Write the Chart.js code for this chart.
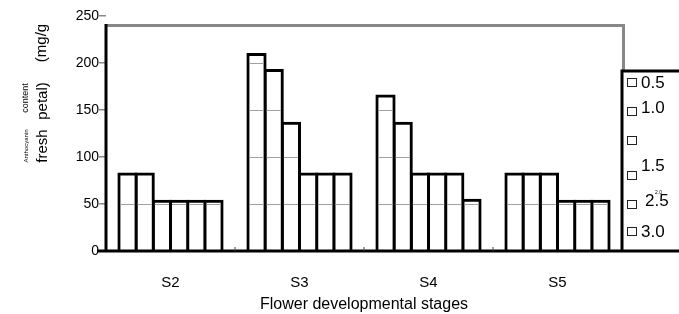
<!DOCTYPE html>
<html>
<head>
<meta charset="utf-8">
<script src="https://cdn.jsdelivr.net/npm/chart.js@4"></script>
<style>
  html, body { margin: 0; padding: 0; background: #fff; }
  #wrap { width: 679px; height: 314px; }
</style>
</head>
<body>
<div id="wrap"><canvas id="chart" width="679" height="314"></canvas></div>
<script>
// data
const stages = ['S2', 'S3', 'S4', 'S5'];
const concentrations = ['0.5', '1.0', '1.5', '2.0', '2.5', '3.0'];
const conc05 = [82, 209, 165, 82];
const conc10 = [82, 192, 136, 82];
const conc15 = [53, 136, 82, 82];
const conc20 = [53, 82, 82, 53];
const conc25 = [53, 82, 82, 53];
const conc30 = [53, 82, 54, 53];
const yTicks = [0, 50, 100, 150, 200, 250];
const frameTop = 240;   // value where the grey plot frame sits

const FONT = "'Liberation Sans', Arial, sans-serif";
Chart.defaults.font.family = FONT;
Chart.defaults.color = '#000';

const series = [conc05, conc10, conc15, conc20, conc25, conc30];

// axes, frame, legend box and the odd y title
const decor = {
  id: 'decor',
  afterDatasetsDraw(chart) {
    const { ctx, chartArea: a, scales: { x, y } } = chart;
    const W = chart.width;
    const yf = y.getPixelForValue(frameTop);
    ctx.save();

    // grid lines only show through the bars in the original
    ctx.strokeStyle = '#a0a0a0';
    ctx.lineWidth = 1;
    chart.data.datasets.forEach((ds, di) => {
      chart.getDatasetMeta(di).data.forEach((bar, j) => {
        const { x: bx, width: bw } = bar.getProps(['x', 'width'], true);
        yTicks.forEach(v => {
          if (v > 0 && v < ds.data[j]) {
            const py = Math.round(y.getPixelForValue(v)) + 0.5;
            ctx.beginPath();
            ctx.moveTo(bx - bw / 2 + 1.5, py);
            ctx.lineTo(bx + bw / 2 - 1.5, py);
            ctx.stroke();
          }
        });
      });
    });

    // grey frame top + right
    ctx.strokeStyle = '#888';
    ctx.lineWidth = 3;
    ctx.beginPath();
    ctx.moveTo(a.left, yf);
    ctx.lineTo(a.right + 1.5, yf);
    ctx.lineTo(a.right + 1.5, 71);
    ctx.stroke();

    // black axes
    ctx.strokeStyle = '#000';
    ctx.beginPath();
    ctx.moveTo(a.left, yf - 1.5);
    ctx.lineTo(a.left, a.bottom);
    ctx.moveTo(a.left - 9, a.bottom);
    ctx.lineTo(W, a.bottom);
    ctx.stroke();

    // little ticks between categories
    ctx.lineWidth = 1;
    ctx.strokeStyle = '#444';
    for (let i = 0; i < stages.length - 1; i++) {
      const bx = (x.getPixelForValue(i) + x.getPixelForValue(i + 1)) / 2;
      ctx.beginPath();
      ctx.moveTo(bx, a.bottom - 4);
      ctx.lineTo(bx, a.bottom);
      ctx.stroke();
    }

    // legend box
    ctx.strokeStyle = '#000';
    ctx.lineWidth = 3;
    ctx.beginPath();
    ctx.moveTo(a.right, a.bottom);
    ctx.lineTo(a.right, 71);
    ctx.lineTo(W, 71);
    ctx.stroke();

    const sq = [83, 112, 141, 176, 205, 232];
    ctx.lineWidth = 1;
    ctx.strokeStyle = '#222';
    sq.forEach(cy => ctx.strokeRect(a.right + 5.5, cy - 4.5, 9, 8));

    ctx.fillStyle = '#000';
    ctx.textBaseline = 'middle';
    ctx.textAlign = 'left';
    ctx.font = '17px ' + FONT;
    const lbl = [[0, 641, 83], [1, 641, 108], [2, 641, 166], [4, 645, 201], [5, 641, 232]];
    lbl.forEach(([i, lx, ly]) => ctx.fillText(concentrations[i], lx, ly));
    ctx.font = '5px ' + FONT;
    ctx.fillText(concentrations[3], 655, 193);

    // y title, scattered the way the figure has it
    const parts = [
      ['(mg/g', 15, 42, 43],
      ['petal)', 15, 43, 101],
      ['fresh', 15, 43, 146],
      ['content', 9, 26, 98],
      ['Anthocyanin', 6, 26, 146]
    ];
    ctx.textAlign = 'center';
    parts.forEach(([t, s, px, py]) => {
      ctx.save();
      ctx.translate(px, py);
      ctx.rotate(-Math.PI / 2);
      ctx.font = s + 'px ' + FONT;
      ctx.fillText(t, 0, 0);
      ctx.restore();
    });

    ctx.restore();
  }
};

new Chart(document.getElementById('chart'), {
  type: 'bar',
  data: {
    labels: stages,
    datasets: series.map((d, i) => ({
      label: concentrations[i],
      data: d,
      backgroundColor: '#fff',
      borderColor: '#000',
      borderWidth: 3,
      inflateAmount: 1.5,
      borderSkipped: 'start',
      categoryPercentage: 0.8,
      barPercentage: 1.0
    }))
  },
  options: {
    responsive: false,
    animation: false,
    devicePixelRatio: 1,
    layout: { padding: { top: 16, right: 57, bottom: 0, left: 0 } },
    plugins: { legend: { display: false }, tooltip: { enabled: false } },
    scales: {
      x: {
        grid: { display: false, drawTicks: false },
        border: { display: false },
        ticks: { font: { size: 15 }, padding: 23 },
        title: {
          display: true, text: 'Flower developmental stages',
          font: { size: 16 }, padding: { top: 1, bottom: 0 }
        },
        afterFit(s) { s.height = 63; }
      },
      y: {
        min: 0, max: 250,
        afterBuildTicks(s) { s.ticks = yTicks.map(v => ({ value: v })); },
        grid: { drawOnChartArea: false, color: '#888', tickLength: 7, lineWidth: 1.5 },
        border: { display: false },
        ticks: { font: { size: 14 }, padding: 0 },
        afterFit(s) { s.width = 106; }
      }
    }
  },
  plugins: [decor]
});
</script>
</body>
</html>
